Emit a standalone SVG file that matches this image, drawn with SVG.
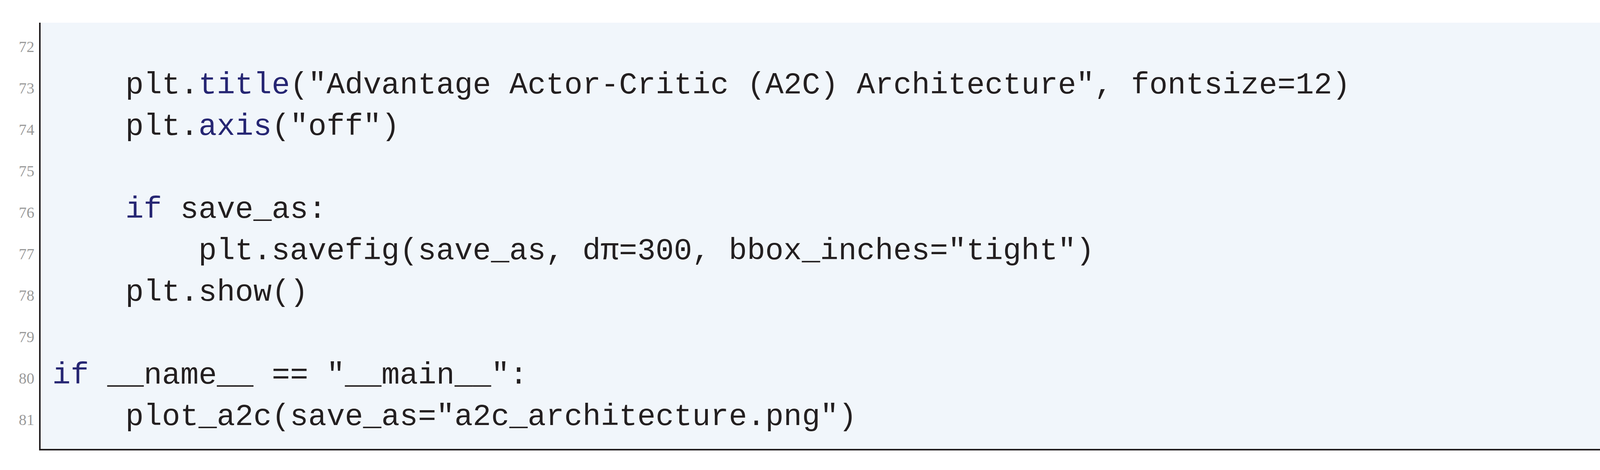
<svg xmlns="http://www.w3.org/2000/svg" width="4375" height="1202" viewBox="0 0 4375 1202">
<style>
.c{font-family:"Liberation Mono","DejaVu Sans Mono",monospace;font-size:78px;fill:#231F20}
.k{fill:#262673}
.n{font-family:"Liberation Serif",serif;font-size:40px;fill:#9a9a9a;text-anchor:end}
</style>
<rect width="4375" height="1202" fill="#ffffff"/>
<g id="box">
<rect x="102" y="58" width="4234" height="1092" fill="#F1F6FB"/>
<path d="M102,58 V1150 H4336 V58" fill="none" stroke="#231F20" stroke-width="4"/>
</g>
<g id="linenumbers">
<text class="n" x="88" y="133">72</text>
<text class="n" x="88" y="239">73</text>
<text class="n" x="88" y="345">74</text>
<text class="n" x="88" y="451">75</text>
<text class="n" x="88" y="557">76</text>
<text class="n" x="88" y="663">77</text>
<text class="n" x="88" y="769">78</text>
<text class="n" x="88" y="875">79</text>
<text class="n" x="88" y="981">80</text>
<text class="n" x="88" y="1087">81</text>
</g>
<g id="code">
<text class="c" x="321" y="239">plt.<tspan class="k">title</tspan>("Advantage Actor-Critic (A2C) Architecture", fontsize=12)</text>
<text class="c" x="321" y="345">plt.<tspan class="k">axis</tspan>("off")</text>
<text class="c" x="321" y="557"><tspan class="k">if</tspan> save_as:</text>
<text class="c" x="508" y="663">plt.savefig(save_as, dπ=300, bbox_inches="tight")</text>
<text class="c" x="321" y="769">plt.show()</text>
<text class="c" x="134" y="981"><tspan class="k">if</tspan> __name__ == "__main__":</text>
<text class="c" x="321" y="1087">plot_a2c(save_as="a2c_architecture.png")</text>
</g>
</svg>
